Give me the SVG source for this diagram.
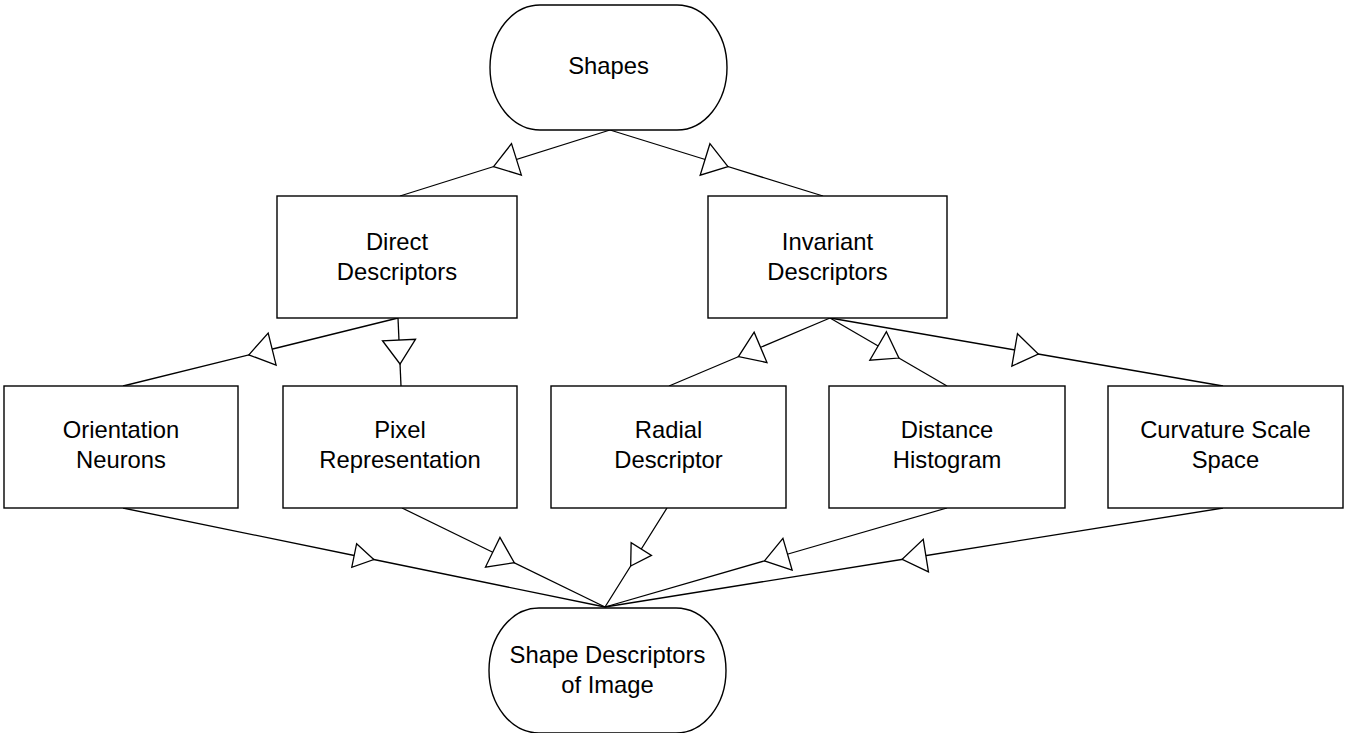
<svg xmlns="http://www.w3.org/2000/svg" width="1345" height="733" viewBox="0 0 1345 733">
  <style>
    .box { fill: #fff; stroke: #000; stroke-width: 1.4; }
    .lbl { font-family: "Liberation Sans", Arial, sans-serif; font-size: 23.8px; fill: #000; text-anchor: middle; }
    .edge { fill: none; stroke: #000; stroke-width: 1.3; marker-mid: url(#tri); }
    .edge.small { marker-mid: url(#triS); }
  </style>
  <defs>
    <!-- open triangle placed at the middle of each connector, pointing toward the target -->
    <marker id="tri" markerUnits="userSpaceOnUse" viewBox="-14 -19 28 38" markerWidth="28" markerHeight="38" refX="0" refY="0" orient="auto" overflow="visible">
      <path d="M-12,-16.5 L12,0 L-12,16.5 Z" fill="#fff" stroke="#000" stroke-width="1.3" stroke-linejoin="miter"/>
    </marker>
    <marker id="triS" markerUnits="userSpaceOnUse" viewBox="-14 -19 28 38" markerWidth="28" markerHeight="38" refX="0" refY="0" orient="auto" overflow="visible">
      <path d="M-10,-12 L10,0 L-10,12 Z" fill="#fff" stroke="#000" stroke-width="1.3" stroke-linejoin="miter"/>
    </marker>
  </defs>

  <g id="connectors">
    <path class="edge" d="M610,130 L505,163 L400,196"/>
    <path class="edge" d="M610,130 L716.5,163 L823,196"/>
    <path class="edge" d="M398,318 L260.5,352 L123,386"/>
    <path class="edge" d="M398,318 L399.5,352 L401,386"/>
    <path class="edge" d="M830,318 L749.5,352 L669,386"/>
    <path class="edge" d="M830,318 L888.5,352 L947,386"/>
    <path class="edge" d="M830,318 L1026.5,352 L1223,386"/>
    <path class="edge small" d="M123,508 L364,557.5 L605,607"/>
    <path class="edge" d="M402,508 L503.5,557.5 L605,607"/>
    <path class="edge small" d="M667,508 L636,557.5 L605,607"/>
    <path class="edge" d="M947,508 L776,557.5 L605,607"/>
    <path class="edge" d="M1223,508 L914,557.5 L605,607"/>
  </g>

  <g id="shapes">
    <rect class="box" x="490" y="5" width="237" height="125" rx="50" ry="62.5"/>
    <text class="lbl" x="608.5" y="74">Shapes</text>
  </g>

  <g id="direct-descriptors">
    <rect class="box" x="277" y="196" width="240" height="122"/>
    <text class="lbl" x="397" y="250">Direct</text>
    <text class="lbl" x="397" y="280">Descriptors</text>
  </g>

  <g id="invariant-descriptors">
    <rect class="box" x="708" y="196" width="239" height="122"/>
    <text class="lbl" x="827.5" y="250">Invariant</text>
    <text class="lbl" x="827.5" y="280">Descriptors</text>
  </g>

  <g id="orientation-neurons">
    <rect class="box" x="4" y="386" width="234" height="122"/>
    <text class="lbl" x="121" y="438">Orientation</text>
    <text class="lbl" x="121" y="468">Neurons</text>
  </g>

  <g id="pixel-representation">
    <rect class="box" x="283" y="386" width="234" height="122"/>
    <text class="lbl" x="400" y="438">Pixel</text>
    <text class="lbl" x="400" y="468">Representation</text>
  </g>

  <g id="radial-descriptor">
    <rect class="box" x="551" y="386" width="235" height="122"/>
    <text class="lbl" x="668.5" y="438">Radial</text>
    <text class="lbl" x="668.5" y="468">Descriptor</text>
  </g>

  <g id="distance-histogram">
    <rect class="box" x="829" y="386" width="236" height="122"/>
    <text class="lbl" x="947" y="438">Distance</text>
    <text class="lbl" x="947" y="468">Histogram</text>
  </g>

  <g id="curvature-scale-space">
    <rect class="box" x="1108" y="386" width="235" height="122"/>
    <text class="lbl" x="1225.5" y="438">Curvature Scale</text>
    <text class="lbl" x="1225.5" y="468">Space</text>
  </g>

  <g id="shape-descriptors-of-image">
    <rect class="box" x="489" y="608" width="237" height="125" rx="50" ry="62.5"/>
    <text class="lbl" x="607.5" y="663">Shape Descriptors</text>
    <text class="lbl" x="607.5" y="693">of Image</text>
  </g>
</svg>
